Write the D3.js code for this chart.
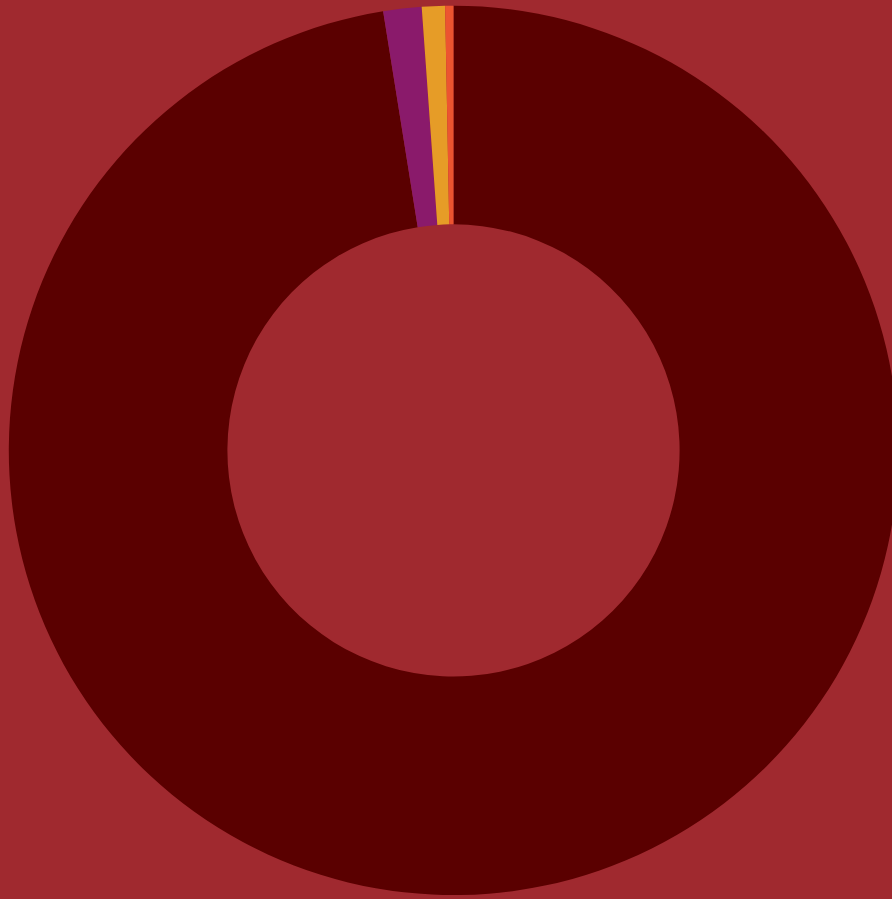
<!DOCTYPE html>
<html>
<head>
<meta charset="utf-8">
<script src="https://cdn.jsdelivr.net/npm/d3@7"></script>
<style>
  html, body { margin: 0; padding: 0; background: #a0292f; overflow: hidden; }
  svg { display: block; }
</style>
</head>
<body>
<svg id="chart" width="892" height="899"></svg>
<script>
// Slice categories and their shares (percent)
const categories = ["A", "B", "C", "D"];
const values = [97.47, 1.39, 0.84, 0.30];
const colors = ["#5a0000", "#8a1a6b", "#e69c27", "#ec5430"];

const width = 892, height = 899;
const cx = 453.5, cy = 450.4;
const outerRadius = 444.7, innerRadius = 226.1;

const data = categories.map((c, i) => ({ category: c, value: values[i] }));

const color = d3.scaleOrdinal().domain(categories).range(colors);

const pie = d3.pie()
  .value(d => d.value)
  .sort((a, b) => b.value - a.value);

const arc = d3.arc()
  .innerRadius(innerRadius)
  .outerRadius(outerRadius);

const svg = d3.select("#chart");

svg.append("rect")
  .attr("width", width)
  .attr("height", height)
  .attr("fill", "#a0292f");

svg.append("g")
  .attr("transform", `translate(${cx},${cy})`)
  .selectAll("path")
  .data(pie(data))
  .join("path")
  .attr("d", arc)
  .attr("fill", d => color(d.data.category));
</script>
</body>
</html>
